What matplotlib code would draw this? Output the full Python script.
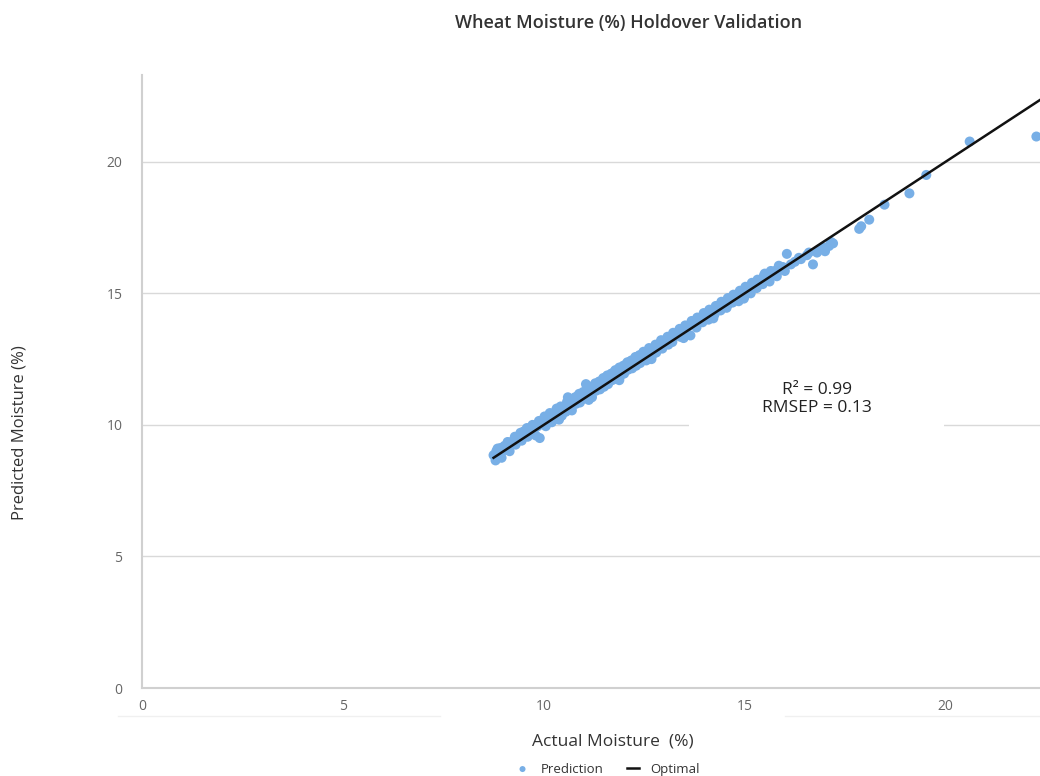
import matplotlib.pyplot as plt
from matplotlib.lines import Line2D

plt.rcParams['font.family'] = ['Open Sans', 'DejaVu Sans']

# actual vs predicted moisture (%)
actual = [8.75, 8.80, 8.85, 8.90, 8.95, 9.00, 9.05, 9.15, 9.20, 9.30,
          9.35, 9.45, 9.50, 9.60, 9.65, 9.70, 9.80, 9.85, 9.90, 10.00,
          10.05, 10.10, 10.20, 10.25, 10.30, 10.40, 10.45, 10.50, 10.55, 10.60,
          10.65, 10.70, 10.75, 10.80, 10.85, 10.90, 10.95, 11.00, 11.05, 11.10,
          11.15, 11.20, 11.25, 11.30, 11.35, 11.40, 11.45, 11.50, 11.55, 11.60,
          11.65, 11.70, 11.75, 11.80, 11.85, 11.90, 11.95, 12.00, 12.05, 12.10,
          12.15, 12.20, 12.25, 12.30, 12.35, 12.40, 12.50, 12.55, 12.60, 12.70,
          12.75, 12.80, 12.90, 12.95, 13.00, 13.10, 13.15, 13.20, 13.30, 13.40,
          13.45, 13.50, 13.60, 13.65, 13.70, 13.80, 13.85, 13.95, 14.00, 14.10,
          14.15, 14.25, 14.30, 14.40, 14.45, 14.55, 14.60, 14.70, 14.75, 14.85,
          14.90, 15.00, 15.05, 15.15, 15.20, 15.30, 15.35, 15.45, 15.50, 15.60,
          15.70, 15.80, 15.90, 16.00, 16.05, 16.15, 16.25, 16.40, 16.55, 16.70,
          16.80, 16.90, 17.00, 17.10, 17.20, 17.85, 17.90, 18.10, 18.48, 19.10,
          19.52, 20.60, 22.26]
predicted = [8.85, 8.65, 9.10, 8.95, 8.75, 9.15, 9.05, 9.00, 9.35, 9.25,
             9.50, 9.40, 9.75, 9.55, 9.85, 9.70, 9.60, 9.95, 9.50, 10.15,
             9.95, 10.30, 10.10, 10.45, 10.25, 10.55, 10.35, 10.70, 10.50, 11.05,
             10.75, 10.55, 10.95, 10.80, 11.10, 10.85, 11.15, 11.00, 11.55, 11.15,
             11.35, 11.05, 11.45, 11.30, 11.55, 11.35, 11.65, 11.45, 11.80, 11.55,
             11.85, 11.70, 12.00, 11.75, 12.05, 11.85, 12.15, 11.95, 12.30, 12.10,
             12.40, 12.15, 12.45, 12.25, 12.55, 12.35, 12.60, 12.45, 12.80, 12.65,
             12.90, 12.75, 13.10, 12.90, 13.20, 13.05, 13.35, 13.15, 13.45, 13.35,
             13.60, 13.45, 13.75, 13.40, 13.80, 13.70, 13.95, 13.90, 14.10, 14.00,
             14.25, 14.20, 14.40, 14.35, 14.55, 14.45, 14.60, 14.65, 14.80, 14.70,
             14.95, 14.90, 15.10, 15.00, 15.30, 15.20, 15.40, 15.35, 15.75, 15.50,
             15.80, 15.65, 15.90, 15.85, 16.50, 16.10, 16.20, 16.30, 16.45, 16.10,
             16.55, 16.70, 16.60, 16.80, 16.90, 17.45, 17.55, 17.80, 18.37, 18.80,
             19.50, 20.77, 20.96]

# second batch of samples filling the dense band
actual_b = [8.82, 8.92, 9.02, 9.12, 9.25, 9.40, 9.55, 9.75, 9.95, 10.08,
            10.18, 10.35, 10.48, 10.62, 10.72, 10.82, 10.92, 11.02, 11.12, 11.22,
            11.32, 11.42, 11.52, 11.62, 11.72, 11.82, 11.92, 12.02, 12.12, 12.22,
            12.32, 12.45, 12.58, 12.65, 12.85, 13.05, 13.25, 13.35, 13.55, 13.75,
            13.90, 14.05, 14.20, 14.35, 14.50, 14.65, 14.80, 14.95, 15.10, 15.25,
            15.40, 15.55, 15.75, 15.95, 16.35, 16.60, 16.95, 17.15]
predicted_b = [9.00, 9.12, 9.20, 9.30, 9.40, 9.60, 9.72, 9.90, 10.10, 10.25,
               10.38, 10.50, 10.62, 10.80, 10.90, 11.00, 11.08, 11.20, 11.30, 11.40,
               11.48, 11.60, 11.68, 11.78, 11.90, 11.98, 12.08, 12.18, 12.28, 12.38,
               12.48, 12.60, 12.72, 12.85, 13.00, 13.22, 13.40, 13.52, 13.70, 13.88,
               14.02, 14.18, 14.32, 14.48, 14.60, 14.75, 14.90, 15.05, 15.20, 15.35,
               15.48, 15.62, 15.85, 16.00, 16.35, 16.55, 16.75, 16.95]

# third batch, upper and lower edge of the band
actual_c = [9.10, 9.28, 9.42, 9.58, 9.72, 9.88, 10.02, 10.15, 10.32, 10.42,
            10.58, 10.68, 10.78, 10.88, 10.98, 11.08, 11.18, 11.28, 11.38, 11.48,
            11.58, 11.68, 11.78, 11.88, 11.98, 12.08, 12.18, 12.28, 12.38, 12.48,
            12.62, 12.78, 12.92, 13.08, 13.22, 13.38, 13.52, 13.68, 13.82, 13.98,
            14.12, 14.28, 14.42, 14.58, 14.72, 14.88, 15.02, 15.18, 15.32, 15.48,
            15.65, 15.85, 10.38, 11.12, 11.88, 12.68, 13.48, 14.22, 14.98, 15.62]
predicted_c = [9.35, 9.55, 9.70, 9.88, 10.00, 10.15, 10.32, 10.45, 10.62, 10.70,
               10.88, 10.95, 11.05, 11.18, 11.25, 11.38, 11.45, 11.58, 11.65, 11.78,
               11.88, 11.95, 12.08, 12.18, 12.25, 12.38, 12.45, 12.58, 12.65, 12.78,
               12.92, 13.05, 13.22, 13.35, 13.50, 13.65, 13.78, 13.95, 14.08, 14.25,
               14.38, 14.52, 14.68, 14.82, 14.95, 15.10, 15.25, 15.40, 15.52, 15.68,
               15.85, 16.05, 10.20, 10.95, 11.70, 12.50, 13.30, 14.05, 14.80, 15.45]

opt_x = [8.75, 22.6]
opt_y = [8.75, 22.6]

xticks = [0, 5, 10, 15, 20]
yticks = [0, 5, 10, 15, 20]

fig = plt.figure(figsize=(10.4, 7.76), dpi=100)
ax = fig.add_axes([0.1365, 0.1134, 0.8635, 0.79])

ax.scatter(actual + actual_b + actual_c, predicted + predicted_b + predicted_c,
           s=52, color='#78afe6', edgecolors='none', zorder=3, label='Prediction')
ax.plot(opt_x, opt_y, color='#111111', lw=1.8, zorder=4, label='Optimal')

ax.set_xlim(0, 22.35)
ax.set_ylim(0, 23.3)
ax.set_xticks(xticks)
ax.set_yticks(yticks)
ax.tick_params(length=0, labelsize=10, labelcolor='#666666')
ax.tick_params(axis='x', pad=8)
ax.tick_params(axis='y', pad=14)
ax.yaxis.grid(True, color='#d9d9d9', lw=1)
ax.set_axisbelow(True)
for s in ['top', 'right']:
    ax.spines[s].set_visible(False)
for s in ['left', 'bottom']:
    ax.spines[s].set_color('#d0d0d0')
    ax.spines[s].set_linewidth(1.5)

ax.text(16.79, 10.99, 'R² = 0.99\nRMSEP = 0.13', ha='center', va='center',
        fontsize=12.5, color='#222222', linespacing=1.2, zorder=1,
        bbox=dict(boxstyle='square,pad=4.2', fc='white', ec='none'))

# faint line under the x tick labels
fig.add_artist(Line2D([118/1040, 440/1040], [1-716/776]*2, color='#f0f0f0', lw=1))
fig.add_artist(Line2D([785/1040, 1.0], [1-716/776]*2, color='#f0f0f0', lw=1))

fig.text(0.604, 0.971, 'Wheat Moisture (%) Holdover Validation', ha='center',
         va='center', fontsize=13, fontweight='semibold', color='#333333')
fig.text(0.589, 0.044, 'Actual Moisture  (%)', ha='center', va='center',
         fontsize=12.5, fontweight='medium', color='#333333')
fig.text(0.019, 0.443, 'Predicted Moisture (%)', ha='center', va='center',
         rotation=90, fontsize=12, color='#333333')

fig.legend(loc='center', bbox_to_anchor=(0.585, 0.009), ncol=2, frameon=False,
           fontsize=9.5, handlelength=0.9, handletextpad=0.9, columnspacing=1.8,
           markerscale=0.6, labelcolor='#333333')

fig.savefig('out.png', dpi=100)
